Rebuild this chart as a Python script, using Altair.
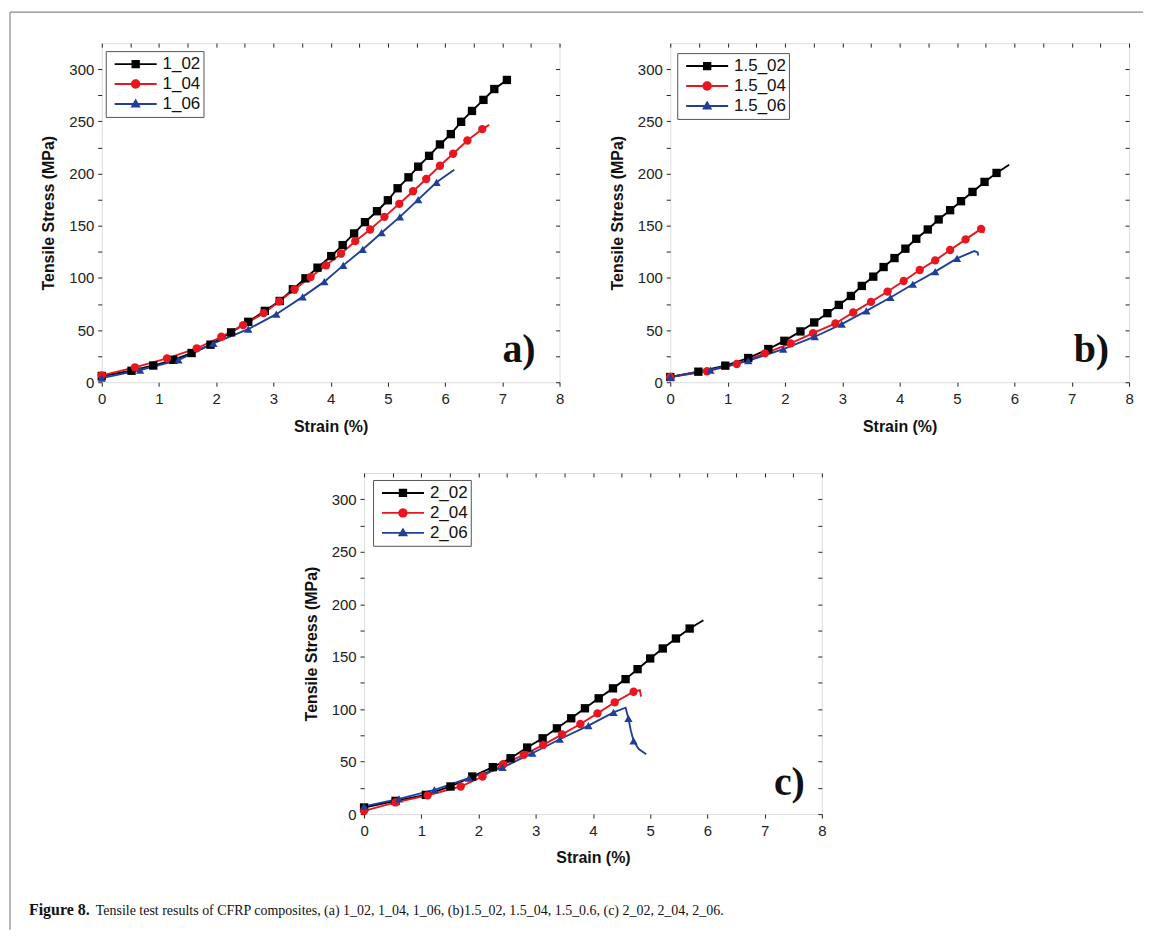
import altair as alt
import pandas as pd

COLORS = ["#000000", "#e8161e", "#203f9a"]
SHAPES = ["square", "circle", "triangle-up"]

# ---------------- panel a ----------------
A_LABELS = ["1_02", "1_04", "1_06"]
A1_X = [0, 0.52, 0.9, 1.25, 1.57, 1.9, 2.26, 2.56, 2.85, 3.11, 3.34, 3.56, 3.77, 4.01, 4.21, 4.41, 4.60,
        4.81, 5.0, 5.17, 5.36, 5.53, 5.72, 5.91, 6.10, 6.28, 6.47, 6.67, 6.86, 7.08]
A1_Y = [6, 11, 16, 21.5, 28, 36, 47.8, 57.9, 68.4, 77.9, 89.1, 99.6, 109.8, 120.9, 131.4, 142.6, 153.4,
        163.9, 174.4, 185.9, 196.4, 206.6, 217, 227.9, 237.8, 249.6, 260, 270.6, 281, 289.7]
A1_M = [1] * 30
A2_X = [0, 0.58, 1.14, 1.66, 2.09, 2.47, 2.83, 3.10, 3.37, 3.65, 3.92, 4.18, 4.43, 4.69, 4.94, 5.20,
        5.44, 5.67, 5.91, 6.14, 6.39, 6.65, 6.77]
A2_Y = [6.6, 14.3, 22.9, 32.5, 43.6, 54.7, 66.2, 77.4, 89.1, 100.9, 112, 123.2, 135.2, 146.4, 158.5, 171,
        183, 194.8, 207.5, 219, 231.7, 242.6, 246.7]
A2_M = [1] * 22 + [0]
A3_X = [0, 0.67, 1.34, 1.95, 2.56, 3.05, 3.51, 3.89, 4.22, 4.56, 4.89, 5.21, 5.53, 5.85, 6.16]
A3_Y = [4, 11.7, 21.3, 37.2, 50.9, 65.2, 81.8, 96.4, 112, 127.3, 143.3, 158.5, 175, 191.6, 203.7]
A3_M = [1] * 14 + [0]

# ---------------- panel b ----------------
B_LABELS = ["1.5_02", "1.5_04", "1.5_06"]
B1_X = [0, 0.49, 0.96, 1.36, 1.71, 1.99, 2.27, 2.51, 2.74, 2.94, 3.15, 3.34, 3.54, 3.72, 3.91, 4.10,
        4.29, 4.49, 4.68, 4.88, 5.07, 5.27, 5.48, 5.69, 5.91]
B1_Y = [5, 10.1, 15.9, 23.2, 31.8, 39.7, 48.7, 57.3, 66.2, 74.1, 82.7, 92.3, 101.2, 110.4, 119, 128,
        137.5, 146.4, 156, 164.9, 173.5, 182.4, 192, 200.6, 208.5]
B1_M = [1] * 24 + [0]
B2_X = [0, 0.64, 1.16, 1.65, 2.10, 2.49, 2.88, 3.19, 3.50, 3.79, 4.07, 4.35, 4.62, 4.88, 5.15, 5.42,
        5.47, 5.46]
B2_Y = [5, 10.5, 17.5, 27.7, 37.2, 47.1, 56.3, 66.9, 77, 86.9, 97, 107.6, 116.8, 126.7, 136.9, 147,
        146.5, 143]
B2_M = [1] * 16 + [0, 0]
B3_X = [0, 0.70, 1.36, 1.97, 2.52, 2.99, 3.42, 3.84, 4.23, 4.62, 5.0, 5.30, 5.36, 5.37]
B3_Y = [5, 11.7, 20.6, 31.8, 43.6, 55.7, 68.4, 81.2, 93.9, 106, 118.7, 125.7, 124.5, 121.5]
B3_M = [1] * 11 + [0, 0, 0]

# ---------------- panel c ----------------
C_LABELS = ["2_02", "2_04", "2_06"]
C1_X = [0, 0.55, 1.08, 1.51, 1.89, 2.25, 2.56, 2.85, 3.12, 3.37, 3.62, 3.86, 4.10, 4.35, 4.57, 4.78,
        5.0, 5.22, 5.45, 5.69, 5.93]
C1_Y = [6.3, 12.6, 18.3, 26.3, 35.8, 44.7, 53.2, 63.4, 72.2, 81.7, 91.3, 100.8, 110.3, 119.8, 128.6,
        138.1, 148.3, 157.8, 167.3, 176.8, 184.7]
C1_M = [1] * 20 + [0]
C2_X = [0, 0.55, 1.11, 1.69, 2.07, 2.43, 2.79, 3.13, 3.46, 3.78, 4.08, 4.38, 4.71, 4.82, 4.84]
C2_Y = [3, 11.1, 17.8, 26.3, 35.8, 47.5, 56.4, 65.9, 76, 85.8, 96, 106.5, 116.6, 118, 112]
C2_M = [1] * 13 + [0, 0]
C3_X = [0, 0.61, 1.23, 1.83, 2.42, 2.94, 3.42, 3.92, 4.36, 4.57, 4.62, 4.66, 4.71, 4.8, 4.93]
C3_Y = [7.3, 14.5, 23.1, 34.2, 44.4, 58, 71.3, 84.3, 97, 101.4, 91.3, 80, 69.7, 62, 57]
C3_M = [1, 1, 1, 1, 1, 1, 1, 1, 1, 0, 1, 0, 1, 0, 0]

PANEL_LETTERS = ["a)", "b)", "c)"]
X_TITLE = "Strain (%)"
Y_TITLE = "Tensile Stress (MPa)"
CAPTION_BOLD = "Figure 8."
CAPTION_TEXT = ("Tensile test results of CFRP composites, (a) 1_02, 1_04, 1_06, (b)1.5_02, 1.5_04, "
                "1.5_0.6, (c) 2_02, 2_04, 2_06.")
X_TICKS = [i / 2 for i in range(17)]
Y_TICKS = list(range(0, 301, 25))

# legend symbols: a short line with the marker in the middle (unit square -1..1)
LINE_PART = "M-0.78,-0.035H0.78V0.035H-0.78Z"
LEG_PATHS = [
    LINE_PART + " M-0.155,-0.155H0.155V0.155H-0.155Z",
    LINE_PART + " M0.175,0A0.175,0.175 0 1,1 -0.175,0A0.175,0.175 0 1,1 0.175,0Z",
    LINE_PART + " M0,-0.2L0.19,0.13H-0.19Z",
]

SANS = "Liberation Sans"
SERIF = "Liberation Serif"


def build_df(labels, xs, ys, ms):
    rows = []
    for lab, xx, yy, mm in zip(labels, xs, ys, ms):
        for i, (a, b, c) in enumerate(zip(xx, yy, mm)):
            rows.append({"series": lab, "x": a, "y": b, "m": c, "i": i})
    return pd.DataFrame(rows)


XS = alt.Scale(domain=[0, 8], nice=False, zero=False)
YS = alt.Scale(domain=[0, 325], nice=False, zero=False)

ax_bottom = alt.Axis(
    orient="bottom", values=X_TICKS, format="d",
    labelExpr="datum.value % 1 === 0 ? datum.label : ''",
    labelFlush=False, labelOverlap=False, domain=False, grid=False,
    tickSize=4, tickColor="#222", tickWidth=1,
    labelFont=SANS, labelFontSize=15, labelColor="#222", labelPadding=5,
    title=X_TITLE, titleFont=SANS, titleFontSize=16, titleFontWeight="bold",
    titleColor="#111", titlePadding=12,
)
ax_left = alt.Axis(
    orient="left", values=Y_TICKS, format="d",
    labelExpr="datum.value % 50 === 0 ? datum.label : ''",
    labelFlush=False, labelOverlap=False, domain=False, grid=False,
    tickSize=4, tickColor="#222", tickWidth=1,
    labelFont=SANS, labelFontSize=15, labelColor="#222", labelPadding=4,
    title=Y_TITLE, titleFont=SANS, titleFontSize=16, titleFontWeight="bold",
    titleColor="#111", titlePadding=12,
)
ax_top = alt.Axis(orient="top", values=X_TICKS, labels=False, title=None, domain=False,
                  grid=False, tickSize=4, tickColor="#222", offset=-4)
ax_right = alt.Axis(orient="right", values=Y_TICKS, labels=False, title=None, domain=False,
                    grid=False, tickSize=4, tickColor="#222", offset=-4)


def make_panel(df, labels, letter, width, height, leg_x, leg_y, let_dx, let_dy, extras=()):
    cscale = alt.Scale(domain=labels, range=COLORS)
    base = alt.Chart(df)
    X = alt.X("x:Q", scale=XS, axis=ax_bottom)
    Y = alt.Y("y:Q", scale=YS, axis=ax_left)
    line = base.mark_line(strokeWidth=1.9).encode(
        X, Y, color=alt.Color("series:N", scale=cscale, legend=None), order="i:Q")
    pts = base.transform_filter("datum.m == 1").mark_point(filled=True, opacity=1, size=70).encode(
        X, Y,
        color=alt.Color("series:N", scale=cscale, legend=None),
        shape=alt.Shape("series:N", scale=alt.Scale(domain=labels, range=SHAPES), legend=None))
    leg = alt.Legend(title=None, orient="none", legendX=leg_x, legendY=leg_y,
                     symbolSize=2916, symbolStrokeWidth=0, clipHeight=20, rowPadding=0,
                     padding=3, labelOffset=0, labelFont=SANS, labelFontSize=17,
                     labelColor="#111", strokeColor="#555", fillColor="white")
    dummy = base.transform_filter("false").mark_point(filled=True, opacity=1).encode(
        X, Y,
        color=alt.Color("series:N", scale=cscale, legend=leg),
        shape=alt.Shape("series:N", scale=alt.Scale(domain=labels, range=LEG_PATHS), legend=leg))
    letter_chart = alt.Chart(pd.DataFrame({"t": [letter]})).mark_text(
        font=SERIF, fontSize=40, fontWeight="bold", align="right", baseline="alphabetic",
        color="#111").encode(text="t:N", x=alt.value(width - let_dx), y=alt.value(height - let_dy))
    inner = alt.layer(line, pts, dummy, letter_chart, *extras).resolve_scale(
        color="independent", shape="independent")
    mirror = base.mark_point(opacity=0).encode(
        alt.X("x:Q", scale=XS, axis=ax_top), alt.Y("y:Q", scale=YS, axis=ax_right))
    return alt.layer(inner, mirror).resolve_axis(x="independent", y="independent").properties(
        width=width, height=height)


df_a = build_df(A_LABELS, [A1_X, A2_X, A3_X], [A1_Y, A2_Y, A3_Y], [A1_M, A2_M, A3_M])
df_b = build_df(B_LABELS, [B1_X, B2_X, B3_X], [B1_Y, B2_Y, B3_Y], [B1_M, B2_M, B3_M])
df_c = build_df(C_LABELS, [C1_X, C2_X, C3_X], [C1_Y, C2_Y, C3_Y], [C1_M, C2_M, C3_M])

one = pd.DataFrame({"k": [0]})
frame_top = alt.Chart(one).mark_rule(color="#8a8a8a", strokeWidth=1.2).encode(
    x=alt.value(-92), x2=alt.value(1044), y=alt.value(-31))
frame_left = alt.Chart(one).mark_rule(color="#8a8a8a", strokeWidth=1.2).encode(
    x=alt.value(-92), y=alt.value(-31), y2=alt.value(889))
cap1 = alt.Chart(pd.DataFrame({"t": [CAPTION_BOLD]})).mark_text(
    font=SERIF, fontSize=16, fontWeight="bold", align="left", baseline="alphabetic",
    color="#111").encode(text="t:N", x=alt.value(-73), y=alt.value(874))
cap2 = alt.Chart(pd.DataFrame({"t": [CAPTION_TEXT]})).mark_text(
    font=SERIF, fontSize=14, align="left", baseline="alphabetic",
    color="#111").encode(text="t:N", x=alt.value(-6), y=alt.value(874))

pa = make_panel(df_a, A_LABELS, PANEL_LETTERS[0], 459, 340, 4, 8, 24, 20,
                extras=(frame_top, frame_left, cap1, cap2))
pb = make_panel(df_b, B_LABELS, PANEL_LETTERS[1], 460, 340, 7, 10, 20, 20)
pc = make_panel(df_c, C_LABELS, PANEL_LETTERS[2], 459, 342, 9, 7, 17, 19)

spacer = alt.Chart(one).mark_point(opacity=0).properties(
    width=253, height=342, view=alt.ViewBackground(stroke="transparent"))

top = alt.hconcat(pa, pb, spacing=111, bounds="flush")
bottom = alt.hconcat(spacer, pc, spacing=10, bounds="flush")
# nested concat groups count as zero-height in a flush layout, so the spacing
# includes the top row's plot height (340) plus the 91px gap
chart = alt.vconcat(top, bottom, spacing=431, bounds="flush").properties(
    padding={"left": 0, "top": 1, "right": 0, "bottom": 0}
).configure_view(stroke="#222", strokeWidth=1.2).configure(background="white")

chart.save("out.html", embed_options={"renderer": "svg", "actions": False})
